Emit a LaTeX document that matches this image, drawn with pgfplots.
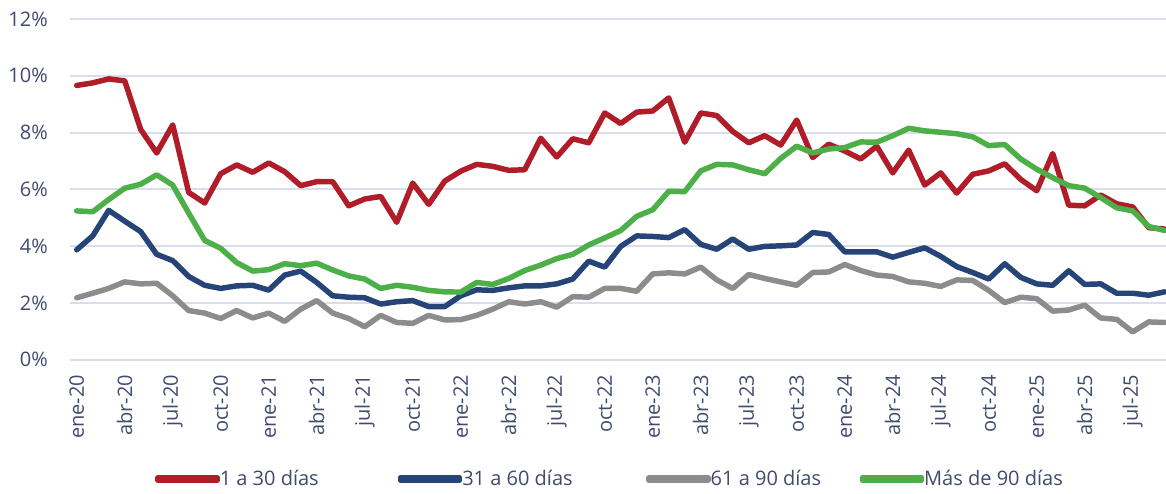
\documentclass[border=0pt]{standalone}
\usepackage{pgfplots}
\usepackage{pgfplotstable}
\pgfplotsset{compat=1.18}
\usepackage{fontspec}
\setmainfont{Open Sans}
\definecolor{cRed}{RGB}{176,28,40}
\definecolor{cBlue}{RGB}{38,68,120}
\definecolor{cGray}{RGB}{140,140,140}
\definecolor{cGreen}{RGB}{76,175,72}
\definecolor{cText}{RGB}{64,74,112}
\definecolor{cGrid}{RGB}{217,221,236}
\pgfplotstableread{
i r b gr g
0 9.66 3.87 2.18 5.24
1 9.75 4.36 2.34 5.21
2 9.89 5.26 2.51 5.64
3 9.82 4.88 2.74 6.04
4 8.11 4.51 2.67 6.18
5 7.28 3.71 2.69 6.51
6 8.27 3.49 2.25 6.15
7 5.89 2.93 1.73 5.16
8 5.52 2.62 1.64 4.20
9 6.55 2.51 1.45 3.92
10 6.86 2.60 1.73 3.42
11 6.60 2.62 1.47 3.12
12 6.93 2.45 1.64 3.17
13 6.62 2.98 1.35 3.38
14 6.13 3.12 1.78 3.31
15 6.27 2.72 2.08 3.40
16 6.27 2.25 1.64 3.16
17 5.42 2.20 1.45 2.95
18 5.66 2.18 1.16 2.84
19 5.75 1.96 1.56 2.51
20 4.84 2.04 1.31 2.62
21 6.22 2.08 1.28 2.55
22 5.47 1.87 1.56 2.44
23 6.29 1.87 1.40 2.39
24 6.64 2.25 1.41 2.38
25 6.88 2.46 1.56 2.72
26 6.81 2.44 1.78 2.65
27 6.67 2.53 2.04 2.86
28 6.69 2.60 1.96 3.14
29 7.80 2.60 2.04 3.33
30 7.14 2.67 1.85 3.56
31 7.78 2.84 2.22 3.71
32 7.64 3.47 2.20 4.04
33 8.69 3.26 2.51 4.29
34 8.32 3.99 2.51 4.55
35 8.72 4.36 2.41 5.05
36 8.76 4.34 3.02 5.28
37 9.22 4.30 3.06 5.93
38 7.66 4.58 3.02 5.92
39 8.69 4.06 3.26 6.65
40 8.60 3.89 2.81 6.88
41 8.04 4.25 2.51 6.86
42 7.64 3.89 3.00 6.69
43 7.89 3.99 2.86 6.55
44 7.56 4.01 2.74 7.09
45 8.44 4.04 2.62 7.52
46 7.12 4.48 3.07 7.28
47 7.59 4.41 3.09 7.42
48 7.35 3.80 3.35 7.47
49 7.07 3.80 3.14 7.67
50 7.52 3.80 2.98 7.66
51 6.58 3.61 2.93 7.89
52 7.38 3.78 2.74 8.15
53 6.15 3.94 2.69 8.06
54 6.58 3.64 2.58 8.01
55 5.87 3.28 2.81 7.96
56 6.53 3.07 2.79 7.85
57 6.65 2.84 2.44 7.54
58 6.90 3.38 2.01 7.58
59 6.35 2.90 2.20 7.07
60 5.95 2.67 2.15 6.71
61 7.26 2.62 1.71 6.41
62 5.44 3.13 1.75 6.13
63 5.42 2.65 1.92 6.04
64 5.80 2.67 1.47 5.71
65 5.49 2.34 1.42 5.35
66 5.38 2.34 0.98 5.24
67 4.65 2.27 1.33 4.69
68 4.60 2.39 1.31 4.55
}\datatable
\begin{document}
\begin{tikzpicture}
\begin{axis}[
  scale only axis,
  width=822pt, height=255.5pt,
  xmin=-0.42, xmax=68.08,
  ymin=0, ymax=12,
  ytick={0,2,4,6,8,10,12},
  yticklabels={0\%,2\%,4\%,6\%,8\%,10\%,12\%},
  xtick={0,3,...,66},
  xticklabels={ene-20,abr-20,jul-20,oct-20,ene-21,abr-21,jul-21,oct-21,ene-22,abr-22,jul-22,oct-22,ene-23,abr-23,jul-23,oct-23,ene-24,abr-24,jul-24,oct-24,ene-25,abr-25,jul-25},
  /pgf/number format/assume math mode=true,
  axis line style={draw=none},
  major tick length=0pt,
  tick style={draw=none},
  ymajorgrids,
  grid style={color=cGrid, line width=1.5pt},
  ticklabel style={font=\fontsize{15pt}{18pt}\selectfont, text=cText},
  yticklabel style={anchor=east, inner sep=0pt},
  yticklabel shift=16.5pt,
  xticklabel style={rotate=90, anchor=east, inner sep=0pt},
  xticklabel shift=11.25pt,
  legend columns=4,
  legend style={
    at={(0.0776,-0.350)}, anchor=west,
    draw=none, fill=none, inner sep=0pt, column sep=0pt,
    font=\fontsize{15pt}{18pt}\selectfont, text=cText,
    nodes={inner sep=0pt, text=cText},
  },
  legend image code/.code={
    \path (0pt,-1pt) rectangle (44.25pt,1pt);
    \draw[#1, line width=4.1pt, line cap=round] (2.05pt,0pt) -- (39.2pt,0pt);
  },
  every axis plot/.append style={line width=4.1pt, line join=round, line cap=round, mark=none},
]
\addplot[cRed] table[x=i, y=r] {\datatable};
\addlegendentry{\makebox[133.5pt][l]{1 a 30 días}}
\addplot[cBlue] table[x=i, y=b] {\datatable};
\addlegendentry{\makebox[138pt][l]{31 a 60 días}}
\addplot[cGray] table[x=i, y=gr] {\datatable};
\addlegendentry{\makebox[111.75pt][l]{61 a 90 días}}
\addplot[cGreen] table[x=i, y=g] {\datatable};
\addlegendentry{Más de 90 días}
\coordinate (axbl) at (rel axis cs:0,0);
\coordinate (axtr) at (rel axis cs:1,1);
\end{axis}
\pgfresetboundingbox
\path[use as bounding box] ([xshift=-52.5pt, yshift=-100.7pt]axbl) rectangle ([yshift=14.25pt]axtr);
\end{tikzpicture}
\end{document}
